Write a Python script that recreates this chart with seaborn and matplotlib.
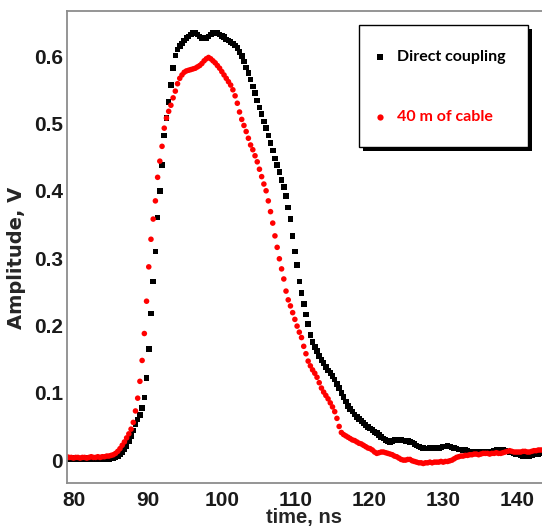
import numpy as np
import pandas as pd
import matplotlib
matplotlib.use("Agg")
import matplotlib.pyplot as plt
from matplotlib.patches import Rectangle
from matplotlib.ticker import FixedLocator, FixedFormatter, MultipleLocator
import seaborn as sns

# ---------------- data ----------------
t_start = 79.0      # ns, first sample
t_step = 0.3        # ns, sampling interval

direct_coupling = [
    0.003, 0.002, 0.002, 0.003, 0.002, 0.001, 0.002, 0.002, 0.001, 0.002,
    0.003, 0.002, 0.001, 0.002, 0.002, 0.003, 0.002, 0.002, 0.003, 0.002,
    0.003, 0.003, 0.004, 0.006, 0.009, 0.012, 0.016, 0.021, 0.028, 0.036,
    0.044, 0.053, 0.060, 0.067, 0.077, 0.093, 0.122, 0.165, 0.218, 0.265,
    0.310, 0.360, 0.400, 0.438, 0.482, 0.508, 0.532, 0.557, 0.582, 0.601,
    0.610, 0.615, 0.619, 0.623, 0.627, 0.629, 0.632, 0.634, 0.634, 0.632,
    0.629, 0.627, 0.626, 0.627, 0.629, 0.632, 0.634, 0.635, 0.634, 0.632,
    0.630, 0.628, 0.625, 0.623, 0.621, 0.619, 0.616, 0.612, 0.606, 0.600,
    0.592, 0.583, 0.575, 0.565, 0.555, 0.545, 0.534, 0.524, 0.514, 0.503,
    0.493, 0.482, 0.471, 0.460, 0.448, 0.438, 0.428, 0.416, 0.406, 0.392,
    0.375, 0.358, 0.333, 0.310, 0.290, 0.265, 0.248, 0.232, 0.216, 0.202,
    0.186, 0.175, 0.168, 0.162, 0.155, 0.149, 0.144, 0.138, 0.133, 0.129,
    0.125, 0.120, 0.113, 0.107, 0.100, 0.094, 0.087, 0.080, 0.076, 0.072,
    0.068, 0.064, 0.061, 0.058, 0.055, 0.052, 0.049, 0.047, 0.045, 0.042,
    0.040, 0.037, 0.034, 0.032, 0.030, 0.028, 0.027, 0.028, 0.030, 0.030,
    0.029, 0.030, 0.029, 0.028, 0.028, 0.027, 0.026, 0.024, 0.022, 0.020,
    0.019, 0.018, 0.017, 0.017, 0.018, 0.017, 0.018, 0.019, 0.018, 0.019,
    0.020, 0.020, 0.021, 0.020, 0.019, 0.018, 0.017, 0.016, 0.016, 0.015,
    0.015, 0.014, 0.013, 0.012, 0.012, 0.012, 0.011, 0.012, 0.012, 0.012,
    0.012, 0.013, 0.013, 0.014, 0.015, 0.015, 0.015, 0.015, 0.014, 0.013,
    0.012, 0.011, 0.010, 0.009, 0.008, 0.007, 0.006, 0.006, 0.007, 0.006,
    0.007, 0.008, 0.008, 0.009, 0.010, 0.010,
]

cable_40m = [
    0.005, 0.004, 0.004, 0.003, 0.004, 0.004, 0.003, 0.004, 0.004, 0.003,
    0.004, 0.005, 0.004, 0.004, 0.005, 0.004, 0.005, 0.005, 0.006, 0.006,
    0.007, 0.008, 0.010, 0.013, 0.017, 0.022, 0.027, 0.033, 0.039, 0.046,
    0.056, 0.073, 0.092, 0.117, 0.148, 0.188, 0.236, 0.287, 0.328, 0.358,
    0.385, 0.420, 0.444, 0.466, 0.493, 0.508, 0.518, 0.527, 0.538, 0.548,
    0.559, 0.567, 0.572, 0.576, 0.578, 0.579, 0.580, 0.581, 0.582, 0.584,
    0.586, 0.589, 0.593, 0.596, 0.598, 0.596, 0.593, 0.590, 0.586, 0.582,
    0.577, 0.572, 0.567, 0.562, 0.557, 0.550, 0.541, 0.530, 0.517, 0.506,
    0.497, 0.488, 0.478, 0.468, 0.461, 0.452, 0.443, 0.432, 0.421, 0.410,
    0.400, 0.385, 0.369, 0.352, 0.333, 0.316, 0.299, 0.284, 0.269, 0.251,
    0.238, 0.229, 0.219, 0.209, 0.199, 0.190, 0.182, 0.169, 0.158, 0.147,
    0.140, 0.134, 0.129, 0.123, 0.115, 0.107, 0.101, 0.096, 0.091, 0.085,
    0.079, 0.072, 0.062, 0.050, 0.041, 0.038, 0.036, 0.034, 0.032, 0.030,
    0.029, 0.027, 0.025, 0.024, 0.022, 0.020, 0.018, 0.017, 0.015, 0.012,
    0.010, 0.011, 0.012, 0.012, 0.011, 0.010, 0.009, 0.008, 0.006, 0.005,
    0.003, 0.001, 0.000, 0.000, 0.001, 0.001, -0.001, -0.002, -0.003, -0.004,
    -0.004, -0.005, -0.004, -0.004, -0.003, -0.004, -0.003, -0.003, -0.003, -0.002,
    -0.003, -0.002, -0.002, -0.001, 0.000, 0.002, 0.004, 0.005, 0.006, 0.006,
    0.007, 0.007, 0.008, 0.008, 0.009, 0.009, 0.008, 0.009, 0.010, 0.010,
    0.010, 0.009, 0.010, 0.010, 0.011, 0.010, 0.010, 0.011, 0.012, 0.013,
    0.014, 0.013, 0.012, 0.012, 0.012, 0.012, 0.013, 0.013, 0.012, 0.012,
    0.013, 0.014, 0.014, 0.015, 0.015, 0.015,
]

series_names = ["Direct coupling", "40 m of cable"]
series_colors = ["#000000", "#ff0000"]
series_markers = ["s", "o"]

x_ticks = [80, 90, 100, 110, 120, 130, 140]
x_tick_labels = ["80", "90", "100", "110", "120", "130", "140"]
y_ticks = [0.0, 0.1, 0.2, 0.3, 0.4, 0.5, 0.6]
y_tick_labels = ["0", "0.1", "0.2", "0.3", "0.4", "0.5", "0.6"]

x_label = "time, ns"
y_label = "Amplitude, V"

# ---------------- build the table ----------------
t1 = t_start + t_step * np.arange(len(direct_coupling))
t2 = t_start + t_step * np.arange(len(cable_40m))
df = pd.concat([
    pd.DataFrame({"time": t1, "amp": direct_coupling, "series": series_names[0]}),
    pd.DataFrame({"time": t2, "amp": cable_40m, "series": series_names[1]}),
], ignore_index=True)

# ---------------- plot ----------------
sns.set_style("white")
plt.rcParams["font.family"] = ["Liberation Sans", "DejaVu Sans"]

W, H = 542, 530
fig = plt.figure(figsize=(W / 100, H / 100), dpi=100)
L, R, T, B = 67, 542, 11, 483
ax = fig.add_axes([L / W, 1 - B / H, (R - L) / W, (B - T) / H])

sns.scatterplot(
    data=df, x="time", y="amp", hue="series", style="series",
    palette=dict(zip(series_names, series_colors)),
    markers=dict(zip(series_names, series_markers)),
    s=16, linewidth=0, legend=False, ax=ax,
)

ax.set_xlim(79.02, 143.39)
ax.set_ylim(-0.034, 0.667)

grey = "#8c8c8c"
for side in ["left", "bottom", "top"]:
    ax.spines[side].set_color(grey)
    ax.spines[side].set_linewidth(1.3)
ax.spines["right"].set_visible(False)

ax.xaxis.set_major_locator(FixedLocator(x_ticks))
ax.xaxis.set_major_formatter(FixedFormatter(x_tick_labels))
ax.yaxis.set_major_locator(FixedLocator(y_ticks))
ax.yaxis.set_major_formatter(FixedFormatter(y_tick_labels))
ax.xaxis.set_minor_locator(MultipleLocator(2))
ax.yaxis.set_minor_locator(MultipleLocator(0.02))
ax.tick_params(which="both", direction="in", color=grey, width=1.0,
               top=False, right=False)
ax.tick_params(which="major", length=9.5)
ax.tick_params(which="minor", length=5)
ax.tick_params(axis="x", which="major", pad=6)
ax.tick_params(axis="y", which="major", pad=3)
for lab in ax.get_xticklabels() + ax.get_yticklabels():
    lab.set_fontsize(15)
    lab.set_fontweight("bold")
    lab.set_color("#1a1a1a")

ax.set_xlabel(x_label, fontsize=14.5, fontweight="bold", ha="right")
ax.xaxis.set_label_coords((342 - L) / (R - L), (B - 518) / (B - T))
ax.xaxis.label.set_va("center")
ax.set_ylabel(y_label, fontsize=14, fontweight="bold", ha="center",
              family=["DejaVu Sans"])
ax.yaxis.set_label_coords((17 - L) / (R - L), (B - 258) / (B - T))
ax.yaxis.label.set_va("center")

# ---------------- legend box with solid shadow ----------------
def ax_x(px):
    return (px - L) / (R - L)

def ax_y(py):
    return (B - py) / (B - T)

bx0, bx1, by0, by1 = 359, 528, 25, 147
sh = 4
ax.add_patch(Rectangle((ax_x(bx0 + sh), ax_y(by1 + sh)),
                       ax_x(bx1 + sh) - ax_x(bx0 + sh), ax_y(by0 + sh) - ax_y(by1 + sh),
                       transform=ax.transAxes, facecolor="black", edgecolor="none",
                       zorder=5, clip_on=False))
ax.add_patch(Rectangle((ax_x(bx0), ax_y(by1)), ax_x(bx1) - ax_x(bx0), ax_y(by0) - ax_y(by1),
                       transform=ax.transAxes, facecolor="white", edgecolor="black",
                       linewidth=1.0, zorder=6, clip_on=False))
entry_y = [57, 117]
for name, col, mk, ey in zip(series_names, series_colors, series_markers, entry_y):
    ax.plot([ax_x(380)], [ax_y(ey)], marker=mk, color=col, markersize=4.5,
            markeredgewidth=0, transform=ax.transAxes, zorder=7, clip_on=False)
    ax.text(ax_x(397), ax_y(ey), name, color=col, fontsize=11.5, fontweight="bold",
            family=["Lato", "DejaVu Sans"], ha="left", va="center",
            transform=ax.transAxes, zorder=7)

fig.savefig("out.png", dpi=100)
